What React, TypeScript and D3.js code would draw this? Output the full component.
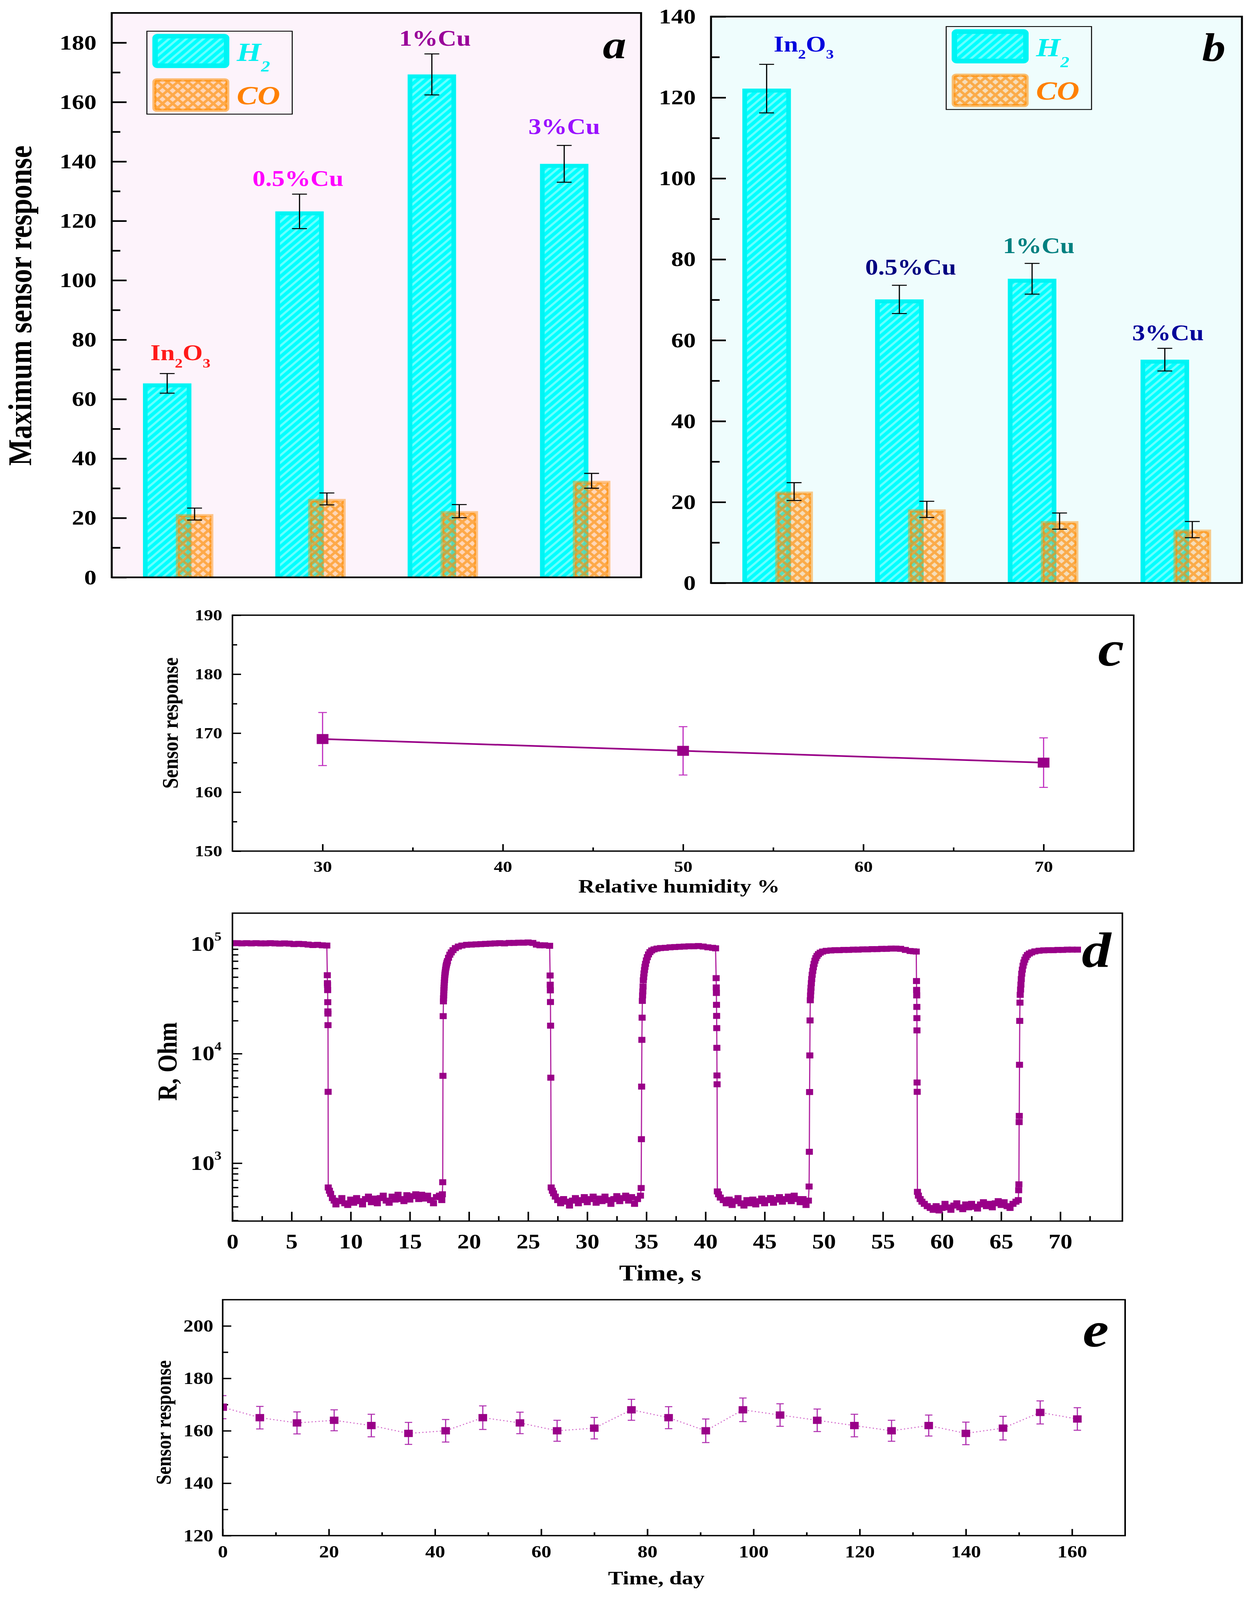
import React, { useEffect, useRef } from 'react';
import * as d3 from 'd3';

const WIDTH = 3215;
const HEIGHT = 4822;
const SERIF = '"Liberation Serif", "Times New Roman", Times, serif';
const PURPLE = '#990088';

// ---- a / b : maximum sensor response of each sample
const samples = ['In2O3', '0.5%Cu', '1%Cu', '3%Cu'];
const h2ResponseA = [65.3, 123.2, 169.3, 139.2];
const h2ErrorA = [3.3, 5.8, 6.9, 6.2];
const coResponseA = [21.3, 26.4, 22.3, 32.5];
const coErrorA = [2.0, 2.0, 2.2, 2.5];
const h2ResponseB = [122.2, 70.1, 75.2, 55.2];
const h2ErrorB = [6.0, 3.5, 3.8, 2.8];
const coResponseB = [22.6, 18.2, 15.3, 13.2];
const coErrorB = [2.2, 2.0, 2.0, 2.0];
const labelColorsA = ['#ff1a1a', '#ff00ff', '#990099', '#9a10ff'];
const labelColorsB = ['#0000dd', '#000080', '#008080', '#000099'];
const barTicksA = [0, 20, 40, 60, 80, 100, 120, 140, 160, 180];
const barTicksB = [0, 20, 40, 60, 80, 100, 120, 140];

// ---- c : humidity
const humidity = [30, 50, 70];
const humidityResponse = [169, 167, 165];
const humidityError = [4.5, 4.1, 4.2];
const humidityTicks = [30, 40, 50, 60, 70];
const humidityYTicks = [150, 160, 170, 180, 190];

// ---- d : resistance transients, [time s, R Ohm]
const dHigh1 = [[0, 102000], [0.4, 102000], [0.8, 101500], [1.2, 102000], [1.6, 101500], [2.0, 102000], [2.4, 101500], [2.8, 101500], [3.2, 102000], [3.6, 101500], [4.0, 101000], [4.4, 101500], [4.8, 101000], [5.2, 100000], [5.6, 100500], [6.0, 100000], [6.4, 99000], [6.8, 98000], [7.2, 98500], [7.6, 97500], [7.98, 97000]];
const dFall1 = [[8.02, 52000], [8.03, 44000], [8.04, 42500], [8.05, 38000], [8.06, 29500], [8.07, 24300], [8.075, 23200], [8.08, 18200], [8.09, 4480]];
const dLow1 = [[8.1, 600], [8.2, 560], [8.3, 525], [8.45, 480], [8.6, 455], [8.75, 420], [9.0, 450], [9.25, 480], [9.5, 430], [9.75, 415], [10.0, 465], [10.25, 435], [10.5, 480], [10.75, 450], [11.0, 420], [11.25, 470], [11.5, 495], [11.75, 440], [12.0, 475], [12.25, 430], [12.5, 480], [12.75, 505], [13.0, 455], [13.25, 435], [13.5, 495], [13.75, 465], [14.0, 515], [14.25, 470], [14.5, 450], [14.75, 510], [15.0, 465], [15.25, 500], [15.5, 520], [15.75, 470], [16.0, 515], [16.25, 475], [16.5, 505], [16.75, 460], [17.0, 430], [17.25, 490], [17.5, 505], [17.7, 460], [17.75, 520]];
const dRise1 = [[17.78, 670], [17.8, 6270], [17.82, 22000], [17.84, 30000], [17.85, 32000], [17.86, 34000], [17.87, 36000], [17.88, 38000], [17.89, 40000], [17.9, 42000], [17.915, 44500], [17.93, 47000], [17.945, 49500], [17.96, 52000], [17.98, 54000], [18.0, 56000], [18.02, 58500], [18.05, 61000], [18.07, 63000], [18.1, 65000], [18.14, 67500], [18.18, 70000], [18.27, 75000], [18.38, 80000], [18.5, 84000], [18.65, 88000], [18.85, 92000], [19.1, 95000], [19.4, 97000], [19.8, 98500]];
const dHigh2 = [[20.2, 99000], [20.6, 99500], [21.0, 100000], [21.4, 100500], [21.8, 101000], [22.2, 101500], [22.6, 102000], [23.0, 101500], [23.4, 102500], [23.8, 102500], [24.2, 103000], [24.6, 103000], [25.0, 103500], [25.4, 102500], [25.7, 99000], [26.0, 97500], [26.4, 97500], [26.82, 96500]];
const dFall2 = [[26.86, 51700], [26.87, 42600], [26.88, 37800], [26.89, 29600], [26.9, 18000], [26.92, 6030]];
const dLow2 = [[26.95, 600], [27.05, 560], [27.15, 530], [27.3, 495], [27.5, 460], [27.75, 430], [28.0, 470], [28.25, 445], [28.5, 410], [28.75, 455], [29.0, 480], [29.25, 430], [29.5, 460], [29.75, 490], [30.0, 440], [30.25, 470], [30.5, 495], [30.75, 435], [31.0, 475], [31.25, 450], [31.5, 495], [31.75, 460], [32.0, 425], [32.25, 470], [32.5, 500], [32.75, 450], [33.0, 480], [33.25, 505], [33.5, 455], [33.75, 490], [34.0, 425], [34.25, 470], [34.5, 505], [34.56, 593]];
const dRise2 = [[34.58, 1656], [34.6, 5000], [34.62, 13360], [34.64, 21300], [34.66, 30300], [34.68, 34000], [34.7, 37000], [34.72, 41000], [34.74, 46700], [34.77, 50000], [34.8, 54000], [34.84, 58000], [34.88, 62000], [34.93, 66000], [35.0, 71000], [35.08, 76000], [35.18, 80500], [35.3, 84500], [35.45, 87500], [35.65, 89500], [35.9, 91000], [36.2, 92000]];
const dHigh3 = [[36.6, 92500], [37.0, 93500], [37.4, 94000], [37.8, 94500], [38.2, 95000], [38.6, 95500], [39.0, 95500], [39.4, 96000], [39.8, 95000], [40.2, 93500], [40.6, 92500], [40.85, 91500]];
const dFall3 = [[40.9, 48900], [40.91, 40200], [40.92, 35800], [40.93, 27900], [40.94, 22100], [40.95, 17100], [40.96, 11300], [40.97, 6320], [40.98, 5250]];
const dLow3 = [[41.0, 552], [41.1, 520], [41.25, 485], [41.5, 460], [41.75, 430], [42.0, 465], [42.25, 415], [42.5, 450], [42.75, 480], [43.0, 430], [43.25, 410], [43.5, 460], [43.75, 430], [44.0, 465], [44.25, 420], [44.5, 450], [44.75, 475], [45.0, 430], [45.25, 460], [45.5, 480], [45.75, 435], [46.0, 465], [46.25, 490], [46.5, 445], [46.75, 470], [47.0, 495], [47.25, 450], [47.5, 505], [47.75, 470], [48.0, 440], [48.25, 470], [48.5, 415], [48.7, 455], [48.76, 612]];
const dRise3 = [[48.78, 1270], [48.8, 4460], [48.82, 9630], [48.84, 20100], [48.86, 30700], [48.88, 34000], [48.9, 37000], [48.92, 40000], [48.95, 44000], [48.98, 48000], [49.02, 52500], [49.07, 57000], [49.12, 61500], [49.18, 66000], [49.25, 70500], [49.33, 74500], [49.43, 78000], [49.55, 81000], [49.7, 83500], [49.9, 85500], [50.2, 86800], [50.6, 87500], [50.95, 88000]];
const dHigh4 = [[51.3, 88000], [51.7, 88500], [52.1, 88500], [52.5, 89000], [52.9, 89000], [53.3, 89500], [53.7, 89500], [54.1, 90000], [54.5, 90000], [54.9, 90500], [55.3, 90500], [55.7, 91000], [56.1, 91000], [56.5, 90500], [56.9, 88500], [57.3, 86500], [57.6, 86000], [57.82, 85500]];
const dFall4 = [[57.84, 46000], [57.85, 38200], [57.86, 34000], [57.87, 26700], [57.875, 21100], [57.88, 16300], [57.89, 5450], [57.9, 4480]];
const dLow4 = [[57.92, 547], [58.0, 505], [58.15, 470], [58.3, 445], [58.5, 425], [58.75, 405], [59.0, 390], [59.25, 375], [59.5, 405], [59.75, 370], [60.0, 390], [60.25, 425], [60.5, 395], [60.75, 375], [61.0, 410], [61.25, 430], [61.5, 395], [61.75, 380], [62.0, 420], [62.25, 395], [62.5, 425], [62.75, 400], [63.0, 385], [63.25, 420], [63.5, 440], [63.75, 405], [64.0, 425], [64.25, 395], [64.5, 430], [64.75, 450], [65.0, 415], [65.25, 440], [65.5, 405], [65.75, 390], [66.0, 425], [66.25, 445], [66.45, 460], [66.48, 566]];
const dRise4 = [[66.5, 641], [66.52, 2370], [66.53, 2700], [66.55, 7910], [66.57, 19900], [66.59, 29200], [66.61, 34400], [66.64, 38500], [66.67, 42700], [66.7, 48000], [66.74, 53700], [66.79, 58500], [66.85, 63500], [66.92, 68000], [67.0, 72000], [67.1, 76000], [67.22, 79500], [67.38, 82000], [67.58, 84000], [67.85, 85800], [68.2, 87000], [68.6, 87700]];
const dHigh5 = [[69.0, 88000], [69.4, 88000], [69.8, 88500], [70.2, 88500], [70.6, 89000], [71.0, 89000], [71.45, 89000]];
const timeTicks = [0, 5, 10, 15, 20, 25, 30, 35, 40, 45, 50, 55, 60, 65, 70];
const decadeTicks = [1000, 10000, 100000];

// ---- e : long term stability
const days = [0, 7, 14, 21, 28, 35, 42, 49, 56, 63, 70, 77, 84, 91, 98, 105, 112, 119, 126, 133, 140, 147, 154, 161];
const dayResponse = [169, 165, 163, 164, 162, 159, 160, 165, 163, 160, 161, 168, 165, 160, 168, 166, 164, 162, 160, 162, 159, 161, 167, 164.5];
const dayError = [4.4, 4.3, 4.2, 4.0, 4.3, 4.2, 4.3, 4.5, 4.1, 4.0, 4.1, 4.0, 4.2, 4.5, 4.5, 4.3, 4.3, 4.3, 4.0, 4.0, 4.3, 4.5, 4.4, 4.3];
const dayTicks = [0, 20, 40, 60, 80, 100, 120, 140, 160];
const dayYTicks = [120, 140, 160, 180, 200];

type Sel = d3.Selection<any, unknown, null, undefined>;

function styleAxis(ax: Sel, size: number, width: number) {
  ax.select('.domain').remove();
  ax.attr('font-family', SERIF).attr('font-size', size).attr('font-weight', 'bold');
  ax.selectAll('line').attr('stroke', '#000').attr('stroke-width', width);
  ax.selectAll('text').attr('fill', '#000');
}

function leftAxis(g: Sel, scale: any, x: number, major: number[], minor: number[], o: any) {
  const a = g.append('g').attr('transform', `translate(${x},0)`)
    .call(d3.axisLeft(scale).tickValues(major).tickSize(-o.major).tickPadding(o.pad).tickFormat(o.format || d3.format('d')));
  styleAxis(a, o.size, o.width);
  const m = g.append('g').attr('transform', `translate(${x},0)`)
    .call(d3.axisLeft(scale).tickValues(minor).tickSize(-o.minor).tickFormat(() => ''));
  styleAxis(m, o.size, o.width);
  return a;
}

function bottomAxis(g: Sel, scale: any, y: number, major: number[], minor: number[], o: any) {
  const a = g.append('g').attr('transform', `translate(0,${y})`)
    .call(d3.axisBottom(scale).tickValues(major).tickSize(-o.major).tickPadding(o.pad).tickFormat(d3.format('d')));
  styleAxis(a, o.size, o.width);
  const m = g.append('g').attr('transform', `translate(0,${y})`)
    .call(d3.axisBottom(scale).tickValues(minor).tickSize(-o.minor).tickFormat(() => ''));
  styleAxis(m, o.size, o.width);
}

function label(g: Sel, x: number, y: number, s: string, size: number, o: any = {}) {
  const t = g.append('text').attr('x', x).attr('y', y).text(s)
    .attr('font-family', SERIF).attr('font-size', size).attr('font-weight', 'bold')
    .attr('font-style', o.italic ? 'italic' : 'normal')
    .attr('text-anchor', o.anchor || 'middle').attr('fill', o.color || '#000');
  if (o.rotate) t.attr('transform', `rotate(-90,${x},${y})`);
  return t;
}

function errorBar(g: Sel, cx: number, yTop: number, yBot: number, cap: number, color: string, width: number) {
  g.append('line').attr('x1', cx).attr('x2', cx).attr('y1', yTop).attr('y2', yBot).attr('stroke', color).attr('stroke-width', width);
  [yTop, yBot].forEach(yy => g.append('line').attr('x1', cx - cap / 2).attr('x2', cx + cap / 2).attr('y1', yy).attr('y2', yy).attr('stroke', color).attr('stroke-width', width));
}

function clipRect(defs: Sel, id: string, x0: number, y0: number, x1: number, y1: number) {
  defs.append('clipPath').attr('id', id).append('rect').attr('x', x0).attr('y', y0).attr('width', x1 - x0).attr('height', y1 - y0);
}

function frame(g: Sel, x0: number, y0: number, x1: number, y1: number, w: number) {
  g.append('rect').attr('x', x0).attr('y', y0).attr('width', x1 - x0).attr('height', y1 - y0)
    .attr('fill', 'none').attr('stroke', '#000').attr('stroke-width', w);
}

function barPanel(root: Sel, defs: Sel, p: any) {
  const g = root.append('g');
  const x = d3.scaleBand<string>().domain(samples).range([p.x0, p.x1]);
  const y = d3.scaleLinear().domain([0, p.yMax]).range([p.y1, p.y0]);
  const bw = x.bandwidth();
  const h2Left = (s: string) => (x(s) as number) + bw * 0.236;
  const h2W = bw * 0.366;
  const coLeft = (s: string) => (x(s) as number) + bw * 0.484;
  const coW = bw * 0.284;

  g.append('rect').attr('x', p.x0).attr('y', p.y0).attr('width', p.x1 - p.x0).attr('height', p.y1 - p.y0).attr('fill', p.bg);
  clipRect(defs, p.id + '-clip', p.x0, p.y0, p.x1, p.y1);
  const bars = g.append('g').attr('clip-path', `url(#${p.id}-clip)`);

  bars.selectAll('rect.h2').data(samples).join('rect').attr('class', 'h2')
    .attr('x', s => h2Left(s) + 6).attr('y', (s, i) => y(p.h2[i]) + 6)
    .attr('width', h2W - 12).attr('height', (s, i) => p.y1 - y(p.h2[i]))
    .attr('fill', 'url(#hatchH2)').attr('stroke', '#00f4f4').attr('stroke-width', 12);
  bars.selectAll('rect.co').data(samples).join('rect').attr('class', 'co')
    .attr('x', s => coLeft(s) + 5).attr('y', (s, i) => y(p.co[i]) + 5)
    .attr('width', coW - 10).attr('height', (s, i) => p.y1 - y(p.co[i]))
    .attr('fill', 'url(#hatchCO)').attr('stroke', 'rgba(255,140,0,0.45)').attr('stroke-width', 10);

  samples.forEach((s, i) => {
    const hc = h2Left(s) + h2W / 2;
    const cc = coLeft(s) + coW / 2;
    errorBar(g, hc, y(p.h2[i] + p.h2Err[i]), y(p.h2[i] - p.h2Err[i]), 38, '#000', 3);
    errorBar(g, cc, y(p.co[i] + p.coErr[i]), y(p.co[i] - p.coErr[i]), 38, '#000', 3);
    const t = label(g, hc + p.labelDx[i], y(p.h2[i] + p.h2Err[i]) - p.labelGap[i], '', 66, { color: p.labelColors[i] });
    if (s === 'In2O3') {
      t.append('tspan').text('In');
      t.append('tspan').attr('font-size', 40).attr('dy', 22).text('2');
      t.append('tspan').attr('dy', -22).text('O');
      t.append('tspan').attr('font-size', 40).attr('dy', 22).text('3');
    } else {
      t.text(s);
    }
  });

  // legend
  const lx = p.legend[0], ly = p.legend[1];
  g.append('rect').attr('x', lx).attr('y', ly).attr('width', 372).attr('height', 250)
    .attr('fill', 'none').attr('stroke', '#000').attr('stroke-width', 2.5);
  g.append('rect').attr('x', lx + 21).attr('y', ly + 15).attr('width', 183).attr('height', 89).attr('rx', 6)
    .attr('fill', 'url(#hatchH2)').attr('stroke', '#00f4f4').attr('stroke-width', 14);
  g.append('rect').attr('x', lx + 19).attr('y', ly + 147).attr('width', 187).attr('height', 91).attr('rx', 6)
    .attr('fill', 'url(#hatchCO)').attr('stroke', 'rgba(255,140,0,0.55)').attr('stroke-width', 10);
  const h = label(g, lx + 230, ly + 90, '', 80, { italic: true, anchor: 'start', color: '#00f0f0' });
  h.append('tspan').text('H');
  h.append('tspan').attr('font-size', 46).attr('dy', 32).text('2');
  label(g, lx + 230, ly + 220, 'CO', 80, { italic: true, anchor: 'start', color: '#ff8000' });

  leftAxis(g, y, p.x0, p.ticks, d3.range(10, p.yMax, 20), { major: 38, minor: 22, width: 5, size: 63, pad: 39 });
  frame(g, p.x0, p.y0, p.x1, p.y1, 5);
  label(g, p.letter[1], p.letter[2], p.letter[0], 120, { italic: true, anchor: 'end' });
}

const App: React.FC = () => {
  const svgRef = useRef<SVGSVGElement>(null);

  useEffect(() => {
    if (!svgRef.current) return;
    document.body.style.margin = '0';
    document.body.style.overflow = 'hidden';
    const svg = d3.select(svgRef.current);
    svg.selectAll('*').remove();
    svg.append('rect').attr('width', WIDTH).attr('height', HEIGHT).attr('fill', '#fff');
    const defs = svg.append('defs');

    // hatch patterns
    const ph = defs.append('pattern').attr('id', 'hatchH2').attr('patternUnits', 'userSpaceOnUse').attr('width', 22).attr('height', 22);
    ph.append('rect').attr('width', 22).attr('height', 22).attr('fill', '#00ffff');
    ph.append('path').attr('d', 'M-5.5,5.5L5.5,-5.5M0,22L22,0M16.5,27.5L27.5,16.5')
      .attr('stroke', 'rgba(255,255,255,0.42)').attr('stroke-width', 6);
    const pc = defs.append('pattern').attr('id', 'hatchCO').attr('patternUnits', 'userSpaceOnUse').attr('width', 26).attr('height', 26);
    pc.append('rect').attr('width', 26).attr('height', 26).attr('fill', 'rgba(255,160,60,0.35)');
    pc.append('path').attr('d', 'M0,0L26,26M-13,13L13,39M13,-13L39,13M0,26L26,0M-13,13L13,-13M13,39L39,13')
      .attr('stroke', 'rgba(255,140,0,0.6)').attr('stroke-width', 7);

    // ---- a
    barPanel(svg, defs, {
      id: 'pa', x0: 286, x1: 1641, y0: 39, y1: 1740, yMax: 190, bg: '#fdf3fb',
      h2: h2ResponseA, h2Err: h2ErrorA, co: coResponseA, coErr: coErrorA, ticks: barTicksA,
      labelColors: labelColorsA, labelDx: [34, -4, 8, 0], labelGap: [40, 25, 25, 34],
      legend: [376, 94], letter: ['a', 1603, 175]
    });
    label(svg, 80, 921, 'Maximum sensor response', 85, { rotate: true });

    // ---- b
    barPanel(svg, defs, {
      id: 'pb', x0: 1820, x1: 3179, y0: 50, y1: 1757, yMax: 140, bg: '#effdfd',
      h2: h2ResponseB, h2Err: h2ErrorB, co: coResponseB, coErr: coErrorB, ticks: barTicksB,
      labelColors: labelColorsB, labelDx: [95, 29, 17, 8], labelGap: [39, 32, 31, 25],
      legend: [2422, 80], letter: ['b', 3137, 184]
    });

    // ---- c
    {
      const g = svg.append('g');
      const x0 = 595, x1 = 2902, y0 = 1854, y1 = 2565;
      const x = d3.scaleLinear().domain([25, 75]).range([x0, x1]);
      const y = d3.scaleLinear().domain([150, 190]).range([y1, y0]);
      leftAxis(g, y, x0, humidityYTicks, [155, 165, 175, 185], { major: 22, minor: 12, width: 4, size: 47, pad: 26 });
      bottomAxis(g, x, y1, humidityTicks, [35, 45, 55, 65], { major: 21, minor: 11, width: 4, size: 47, pad: 29 });
      const pts = humidity.map((h, i) => [x(h), y(humidityResponse[i])] as [number, number]);
      g.append('path').attr('d', d3.line()(pts)).attr('fill', 'none').attr('stroke', PURPLE).attr('stroke-width', 5);
      humidity.forEach((h, i) => errorBar(g, x(h), y(humidityResponse[i] + humidityError[i]), y(humidityResponse[i] - humidityError[i]), 22, '#c030c0', 3));
      g.selectAll('rect.m').data(humidity).join('rect').attr('class', 'm')
        .attr('x', h => x(h) - 15).attr('y', (h, i) => y(humidityResponse[i]) - 15)
        .attr('width', 30).attr('height', 30).attr('fill', PURPLE);
      frame(g, x0, y0, x1, y1, 4);
      label(g, 1738, 2690, 'Relative humidity %', 58);
      label(g, 455, 2179, 'Sensor response', 58, { rotate: true });
      label(g, 2877, 2006, 'c', 150, { italic: true, anchor: 'end' });
    }

    // ---- d
    {
      const g = svg.append('g');
      const x0 = 595, x1 = 2873, y0 = 2752, y1 = 3680;
      const x = d3.scaleLinear().domain([0, 75.25]).range([x0, x1]);
      const y = d3.scaleLog().domain([296, 191700]).range([y1, y0]);
      const minorDecade: number[] = [];
      [100, 1000, 10000, 100000].forEach(dec => [2, 3, 4, 5, 6, 7, 8, 9].forEach(k => {
        const v = dec * k;
        if (v > 296 && v < 191700) minorDecade.push(v);
      }));
      leftAxis(g, y, x0, decadeTicks, minorDecade, { major: 25, minor: 15, width: 4, size: 61, pad: 28, format: () => '' });
      decadeTicks.forEach(v => {
        const t = label(g, x0 - 28, y(v) + 20, '', 61, { anchor: 'end' });
        t.append('tspan').text('10');
        t.append('tspan').attr('font-size', 36).attr('dy', -30).text(String(Math.round(Math.log10(v))));
      });
      bottomAxis(g, x, y1, timeTicks, d3.range(2.5, 75, 5), { major: 28, minor: 15, width: 4, size: 61, pad: 39 });

      clipRect(defs, 'pd-clip', x0, y0, x1, y1);
      const series = [
        ...dHigh1, ...dFall1, ...dLow1, ...dRise1, ...dHigh2, ...dFall2, ...dLow2, ...dRise2,
        ...dHigh3, ...dFall3, ...dLow3, ...dRise3, ...dHigh4, ...dFall4, ...dLow4, ...dRise4, ...dHigh5
      ];
      const plot = g.append('g').attr('clip-path', 'url(#pd-clip)');
      const line = d3.line<number[]>().x(d => x(d[0])).y(d => y(d[1]));
      plot.append('path').attr('d', line(series)).attr('fill', 'none').attr('stroke', '#b0209f').attr('stroke-width', 3);
      plot.selectAll('rect').data(series).join('rect')
        .attr('x', d => x(d[0]) - 9).attr('y', d => y(d[1]) - 9)
        .attr('width', 18).attr('height', 18).attr('fill', PURPLE);
      frame(g, x0, y0, x1, y1, 4);
      label(g, 1690, 3859, 'Time, s', 68);
      label(g, 452, 3199, 'R, Ohm', 70, { rotate: true });
      label(g, 2844, 2914, 'd', 150, { italic: true, anchor: 'end' });
    }

    // ---- e
    {
      const g = svg.append('g');
      const x0 = 570, x1 = 2880, y0 = 3917, y1 = 4628;
      const x = d3.scaleLinear().domain([0, 170]).range([x0, x1]);
      const y = d3.scaleLinear().domain([120, 210]).range([y1, y0]);
      leftAxis(g, y, x0, dayYTicks, [130, 150, 170, 190], { major: 22, minor: 14, width: 4, size: 51, pad: 24 });
      bottomAxis(g, x, y1, dayTicks, d3.range(10, 170, 20), { major: 20, minor: 10, width: 4, size: 51, pad: 30 });
      clipRect(defs, 'pe-clip', x0, y0, x1, y1);
      const plot = g.append('g').attr('clip-path', 'url(#pe-clip)');
      const pts = days.map((dd, i) => [x(dd), y(dayResponse[i])] as [number, number]);
      plot.append('path').attr('d', d3.line()(pts)).attr('fill', 'none')
        .attr('stroke', '#d060c8').attr('stroke-width', 3).attr('stroke-dasharray', '3,6');
      days.forEach((dd, i) => errorBar(plot, x(dd), y(dayResponse[i] + dayError[i]), y(dayResponse[i] - dayError[i]), 19, '#b030b0', 3));
      plot.selectAll('rect.m').data(days).join('rect').attr('class', 'm')
        .attr('x', dd => x(dd) - 11).attr('y', (dd, i) => y(dayResponse[i]) - 11)
        .attr('width', 22).attr('height', 22).attr('fill', PURPLE);
      frame(g, x0, y0, x1, y1, 4);
      label(g, 1680, 4775, 'Time, day', 58);
      label(g, 437, 4287, 'Sensor response', 55, { rotate: true });
      label(g, 2838, 4058, 'e', 150, { italic: true, anchor: 'end' });
    }
  }, []);

  // the figure is drawn in 3215x4822 units and stretched onto whatever the window is
  return (
    <svg
      ref={svgRef}
      viewBox={`0 0 ${WIDTH} ${HEIGHT}`}
      preserveAspectRatio="none"
      style={{ display: 'block', position: 'fixed', left: 0, top: 0, width: '100vw', height: '100vh' }}
    />
  );
};

export default App;
